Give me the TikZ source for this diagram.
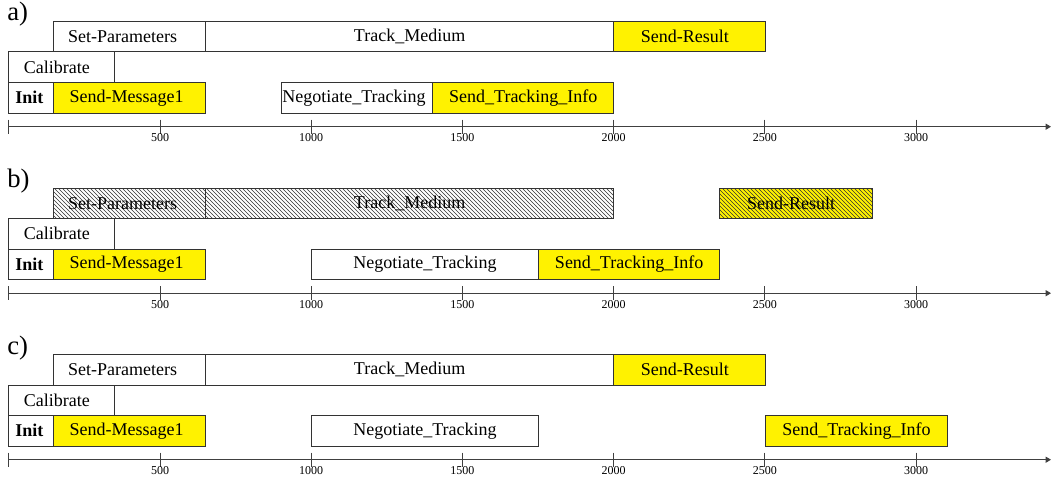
\documentclass[tikz,border=0pt]{standalone}
\usepackage{fontspec}
\setmainfont{Liberation Serif}
\usetikzlibrary{patterns,arrows.meta}
\newcommand\mybox[6]{%
  \node[#2, anchor=north west, minimum width={(#4-#3)*0.75pt}] (#1) at (#3,#5) {#6};}
\newcommand\lsh[1]{\hspace*{#1pt}}
\tikzset{
  tb/.style={draw=black!80, line width=0.75pt, inner sep=0pt, minimum height={30.5*0.75pt},
    font=\fontsize{13.5}{16}\selectfont},
  wb/.style={tb, fill=white},
  yb/.style={tb, fill=yellow},
  hb/.style={tb, pattern=north west lines, pattern color=black!80},
  hyb/.style={tb, preaction={fill=yellow}, pattern=north west lines, pattern color=black!80},
  axisline/.style={draw=black!75, line width=0.75pt, -{Triangle[length=4pt,width=4.5pt]}},
  tickline/.style={draw=black!75, line width=0.75pt},
  ticklabel/.style={anchor=base, inner sep=0pt, font=\fontsize{9}{10}\selectfont},
  plabel/.style={anchor=base west, inner sep=0pt, font=\fontsize{20}{24}\selectfont},
}
\begin{document}
\begin{tikzpicture}[x=0.75pt,y=-0.75pt]
\useasboundingbox (0,0) rectangle (1052,478);
% ---------- panel a ----------
\begin{scope}
\node[plabel] (la) at (7,21) {a)};
\mybox{aSP}{wb}{53.3}{205}{21}{Set-Parameters\lsh{10.5}}
\mybox{aTM}{wb}{205}{613.3}{21}{Track\_Medium}
\mybox{aSR}{yb}{613.3}{765.3}{21}{Send-Result\lsh{7.5}}
\mybox{aCa}{wb}{8.3}{114.3}{51.5}{Calibrate\lsh{7.5}}
\mybox{aIn}{wb}{8.3}{53.3}{82}{\textbf{Init}\lsh{3}}
\mybox{aSM}{yb}{53.3}{205}{82}{Send-Message1\lsh{4.5}}
\mybox{aNT}{wb}{280.7}{432.3}{82}{Negotiate\_Tracking\lsh{4.5}}
\mybox{aST}{yb}{432.3}{613.3}{82}{Send\_Tracking\_Info}
\coordinate (a0) at (8.3,126.7);
\coordinate (a1) at (1051,126.7);
\draw[axisline] (a0) -- (a1);
\draw[tickline] (8.3,119.7) -- (8.3,133.7);
\foreach \t in {500,1000,1500,2000,2500,3000}{
  \pgfmathsetmacro\xx{8.8+0.3024*\t}
  \draw[tickline] (\xx,119.7) -- (\xx,133.7);
  \node[ticklabel] (at\t) at (\xx,141.5) {\t};
}
\end{scope}
% ---------- panel b ----------
\begin{scope}[yshift={-166.5*0.75pt}]
\node[plabel] (lb) at (7,21) {b)};
\mybox{bSP}{hb}{53.3}{205}{21}{Set-Parameters\lsh{10.5}}
\mybox{bTM}{hb}{205}{613.3}{21}{Track\_Medium}
\mybox{bSR}{hyb}{719.3}{871.7}{21}{Send-Result\lsh{7.5}}
\mybox{bCa}{wb}{8.3}{114.3}{51.5}{Calibrate\lsh{7.5}}
\mybox{bIn}{wb}{8.3}{53.3}{82}{\textbf{Init}\lsh{3}}
\mybox{bSM}{yb}{53.3}{205}{82}{Send-Message1\lsh{4.5}}
\mybox{bNT}{wb}{311}{538}{82}{Negotiate\_Tracking}
\mybox{bST}{yb}{538}{719.3}{82}{Send\_Tracking\_Info}
\coordinate (b0) at (8.3,126.7);
\coordinate (b1) at (1051,126.7);
\draw[axisline] (b0) -- (b1);
\draw[tickline] (8.3,119.7) -- (8.3,133.7);
\foreach \t in {500,1000,1500,2000,2500,3000}{
  \pgfmathsetmacro\xx{8.8+0.3024*\t}
  \draw[tickline] (\xx,119.7) -- (\xx,133.7);
  \node[ticklabel] (bt\t) at (\xx,141.5) {\t};
}
\end{scope}
% ---------- panel c ----------
\begin{scope}[yshift={-333*0.75pt}]
\node[plabel] (lc) at (7,21) {c)};
\mybox{cSP}{wb}{53.3}{205}{21}{Set-Parameters\lsh{10.5}}
\mybox{cTM}{wb}{205}{613.3}{21}{Track\_Medium}
\mybox{cSR}{yb}{613.3}{765.3}{21}{Send-Result\lsh{7.5}}
\mybox{cCa}{wb}{8.3}{114.3}{51.5}{Calibrate\lsh{7.5}}
\mybox{cIn}{wb}{8.3}{53.3}{82}{\textbf{Init}\lsh{3}}
\mybox{cSM}{yb}{53.3}{205}{82}{Send-Message1\lsh{4.5}}
\mybox{cNT}{wb}{311}{538}{82}{Negotiate\_Tracking}
\mybox{cST}{yb}{765.3}{946.7}{82}{Send\_Tracking\_Info}
\coordinate (c0) at (8.3,126.7);
\coordinate (c1) at (1051,126.7);
\draw[axisline] (c0) -- (c1);
\draw[tickline] (8.3,119.7) -- (8.3,133.7);
\foreach \t in {500,1000,1500,2000,2500,3000}{
  \pgfmathsetmacro\xx{8.8+0.3024*\t}
  \draw[tickline] (\xx,119.7) -- (\xx,133.7);
  \node[ticklabel] (ct\t) at (\xx,141.5) {\t};
}
\end{scope}
\end{tikzpicture}
\end{document}
